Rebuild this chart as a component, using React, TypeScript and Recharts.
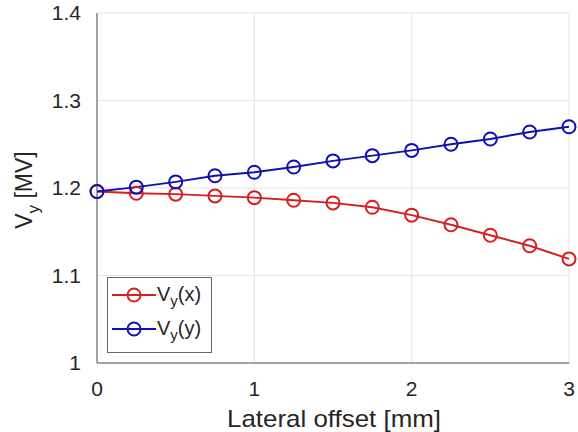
import React from 'react';
import {
  LineChart,
  Line,
  XAxis,
  YAxis,
  CartesianGrid,
  Label,
} from 'recharts';

// lateral offset in mm
const offsets = [0, 0.25, 0.5, 0.75, 1, 1.25, 1.5, 1.75, 2, 2.25, 2.5, 2.75, 3];
// V_y for offsets along x and along y
const vyX = [1.196, 1.194, 1.193, 1.191, 1.189, 1.186, 1.183, 1.178, 1.169, 1.158, 1.146, 1.134, 1.119];
const vyY = [1.196, 1.201, 1.207, 1.214, 1.218, 1.224, 1.231, 1.237, 1.243, 1.25, 1.256, 1.264, 1.27];

const xTicks = [0, 1, 2, 3];
const yTicks = [1, 1.1, 1.2, 1.3, 1.4];

const RED = '#d42020';
const BLUE = '#1010b0';
const FONT = '"Liberation Sans", Arial, sans-serif';
const TEXT = '#262626';

const data = offsets.map((x, i) => ({ x, vx: vyX[i], vy: vyY[i] }));

const series = [
  { key: 'vx', arg: 'x', color: RED },
  { key: 'vy', arg: 'y', color: BLUE },
];

const LegendBox = () => (
  <div
    style={{
      position: 'absolute',
      left: 107,
      top: 277,
      width: 105,
      height: 76,
      border: '1px solid #666',
      background: '#fff',
      fontFamily: FONT,
      fontSize: 20,
      color: TEXT,
      boxSizing: 'border-box',
      paddingTop: 3,
    }}
  >
    {series.map((s) => (
      <div key={s.key} style={{ display: 'flex', alignItems: 'center', height: 34 }}>
        <svg width={46} height={20} style={{ marginLeft: 3, marginTop: -6 }}>
          <line x1={1} y1={10} x2={45} y2={10} stroke={s.color} strokeWidth={2} />
          <circle cx={23} cy={10} r={6.5} fill="none" stroke={s.color} strokeWidth={2} />
        </svg>
        <span style={{ marginTop: -4 }}>
          V<sub style={{ fontSize: 15 }}>y</sub>({s.arg})
        </span>
      </div>
    ))}
  </div>
);

export default function App() {
  return (
    <div style={{ position: 'absolute', left: 0, top: 0, width: 578, height: 432, background: '#fff' }}>
      <LineChart
        width={578}
        height={432}
        data={data}
        margin={{ top: 13, right: 9, left: 37, bottom: 39 }}
      >
        <CartesianGrid stroke="#e4e4e4" strokeWidth={1} />
        <XAxis
          dataKey="x"
          type="number"
          domain={[0, 3]}
          ticks={xTicks}
          height={30}
          stroke="#555"
          tickLine={false}
          tick={{ fill: TEXT, fontSize: 21, fontFamily: FONT }}
          tickMargin={12}
        >
          <Label
            content={() => (
              <text
                x={334}
                y={427}
                textAnchor="middle"
                textLength={214}
                lengthAdjust="spacingAndGlyphs"
                style={{ fill: TEXT, fontSize: 24, fontFamily: FONT }}
              >
                Lateral offset [mm]
              </text>
            )}
          />
        </XAxis>
        <XAxis xAxisId="top" dataKey="x" type="number" domain={[0, 3]} orientation="top" height={0} stroke="#555" tick={false} tickLine={false} />
        <YAxis
          type="number"
          domain={[1, 1.4]}
          ticks={yTicks}
          width={60}
          stroke="#555"
          tickLine={false}
          tick={{ fill: TEXT, fontSize: 21, fontFamily: FONT }}
          tickFormatter={(v: number) => (v === 1 ? '1' : v.toFixed(1))}
          tickMargin={10}
        >
          <Label
            content={() => (
              <text
                transform="translate(32,190) rotate(-90)"
                textAnchor="middle"
                style={{ fill: TEXT, fontSize: 23, fontFamily: FONT }}
              >
                V<tspan dy={7} fontSize={17}>y</tspan>
                <tspan dy={-7}> [MV]</tspan>
              </text>
            )}
          />
        </YAxis>
        <YAxis yAxisId="right" type="number" domain={[1, 1.4]} orientation="right" width={0} stroke="#555" tick={false} tickLine={false} />
        {series.map((s) => (
          <Line
            key={s.key}
            dataKey={s.key}
            stroke={s.color}
            strokeWidth={2}
            dot={{ r: 6.5, fill: 'none', stroke: s.color, strokeWidth: 2 }}
            activeDot={false}
            isAnimationActive={false}
          />
        ))}
      </LineChart>
      <LegendBox />
    </div>
  );
}
